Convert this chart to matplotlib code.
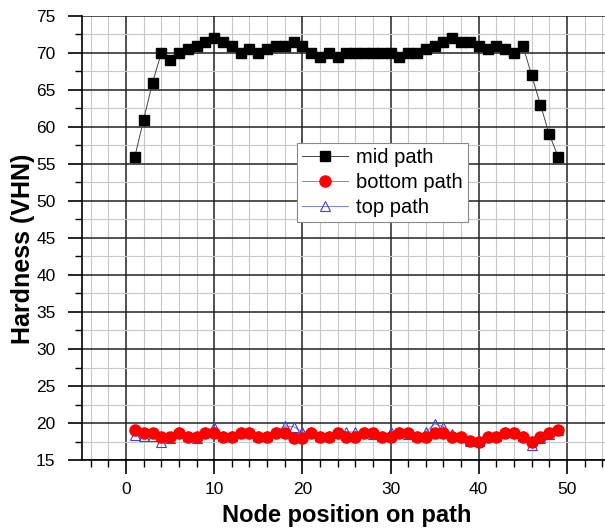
import matplotlib
matplotlib.use('Agg')
import matplotlib.pyplot as plt
from matplotlib.ticker import MultipleLocator

plt.rcParams['font.family'] = ['Liberation Sans', 'DejaVu Sans']

# node positions on the path
nodes = list(range(1, 50))

mid_path = [56, 61, 66, 70, 69, 70, 70.5, 71, 71.5, 72,
            71.5, 71, 70, 70.5, 70, 70.5, 71, 71, 71.5, 71,
            70, 69.5, 70, 69.5, 70, 70, 70, 70, 70, 70,
            69.5, 70, 70, 70.5, 71, 71.5, 72, 71.5, 71.5, 71,
            70.5, 71, 70.5, 70, 71, 67, 63, 59, 56]

bottom_path = [19.1, 18.6, 18.6, 18.1, 18.1, 18.6, 18.1, 18.1, 18.6, 18.6,
               18.1, 18.1, 18.6, 18.6, 18.1, 18.1, 18.6, 18.6, 18.0, 18.0,
               18.6, 18.1, 18.1, 18.6, 18.1, 18.1, 18.6, 18.6, 18.1, 18.1,
               18.6, 18.6, 18.1, 18.1, 18.7, 18.6, 18.1, 18.1, 17.6, 17.5,
               18.1, 18.1, 18.6, 18.6, 18.1, 17.5, 18.1, 18.6, 19.1]

top_path = [18.4, 18.2, 18.2, 17.5, 18.0, 18.8, 18.2, 18.0, 18.8, 19.5,
            18.2, 18.2, 18.8, 18.8, 18.2, 18.2, 18.8, 19.6, 19.5, 18.8,
            18.8, 18.2, 18.2, 18.8, 18.8, 18.8, 18.8, 18.5, 18.2, 18.8,
            18.8, 18.5, 18.2, 18.8, 19.9, 19.5, 18.5, 18.2, 17.6, 17.6,
            18.2, 18.2, 18.8, 18.8, 18.2, 17.0, 18.0, 18.5, 19.0]

fig = plt.figure(figsize=(6.05, 5.31), dpi=100)
ax = fig.add_axes([0.1355, 0.1337, 0.8744, 0.8362])

ax.plot(nodes, mid_path, color='#444444', linewidth=0.7, marker='s',
        markersize=6.5, markerfacecolor='black', markeredgecolor='black',
        label='mid path', zorder=4)
ax.plot(nodes, bottom_path, color='#ff6060', linewidth=0.7, marker='o',
        markersize=8, markerfacecolor='red', markeredgecolor='red',
        label='bottom path', zorder=4)
ax.plot(nodes, top_path, color='#8080e0', linewidth=0.7, marker='^',
        markersize=7, markerfacecolor='none', markeredgecolor='#4040d0',
        markeredgewidth=0.8, label='top path', zorder=3)

ax.set_xlim(-5, 55)
ax.set_ylim(15, 75)
ax.xaxis.set_major_locator(MultipleLocator(10))
ax.xaxis.set_minor_locator(MultipleLocator(2))
ax.yaxis.set_major_locator(MultipleLocator(5))
ax.yaxis.set_minor_locator(MultipleLocator(2.5))

ax.grid(which='major', color='#222222', linewidth=1.1)
ax.grid(which='minor', color='#c8c8c8', linewidth=0.8)
ax.set_axisbelow(True)

# no line along the top edge in the original
for t in ax.yaxis.get_major_ticks():
    if abs(t.get_loc() - 75) < 1e-6:
        t.gridline.set_visible(False)

for s in ['top', 'right']:
    ax.spines[s].set_visible(False)
for s in ['left', 'bottom']:
    ax.spines[s].set_linewidth(1.2)

ax.tick_params(which='major', direction='out', length=10, width=1.2, labelsize=12.5)
ax.tick_params(which='minor', direction='out', length=5, width=1.0)
ax.tick_params(axis='x', which='major', pad=5.5)
ax.tick_params(axis='y', which='major', pad=9)

ax.set_xlabel('Node position on path', fontsize=17, fontweight='bold')
ax.set_ylabel('Hardness (VHN)', fontsize=18, fontweight='bold')
ax.xaxis.set_label_coords(0.5, -0.099)
ax.yaxis.set_label_coords(-0.088, 0.475)

leg = ax.legend(loc='upper left', bbox_to_anchor=(0.406, 0.714), borderaxespad=0,
                fontsize=14.5, fancybox=False, framealpha=1, edgecolor='#888888',
                handlelength=2.3, handletextpad=0.4, labelspacing=0.3,
                borderpad=0.25)
leg.get_frame().set_linewidth(0.8)

fig.savefig('out.png', dpi=100)
